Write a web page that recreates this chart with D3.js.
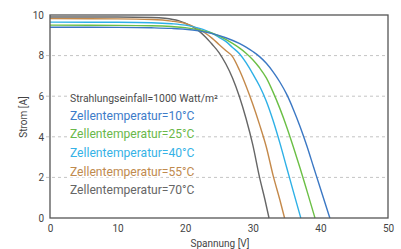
<!DOCTYPE html>
<html><head><meta charset="utf-8">
<script src="https://cdn.jsdelivr.net/npm/d3@7"></script>
<style>
html,body{margin:0;padding:0;background:#fff;}
svg{display:block;font-family:Roboto,"Liberation Sans",Arial,sans-serif;}
</style></head>
<body>
<svg id="c" width="401" height="249"></svg>
<script>
// Data (voltage V, current A)
const temps = ["70°C","55°C","40°C","25°C","10°C"];
const colors = ["#666666","#c4894a","#2eb0e6","#6bbf45","#3b78c4"];
const curve70 = [[0,9.9],[10,9.9],[15,9.88],[17,9.84],[19,9.72],[20,9.6],[21,9.44],[22,9.22],[23,8.92],[24,8.55],[25,8.15],[26,7.6],[27,6.9],[28,6.0],[29,4.9],[30,3.6],[31,2.0],[31.8,0.9],[32.4,0]];
const curve55 = [[0,9.82],[10,9.81],[15,9.78],[18,9.7],[20,9.58],[22,9.3],[23,9.1],[24,8.85],[25,8.55],[26,8.25],[27,7.95],[28,7.3],[29,6.5],[30,5.6],[31,4.6],[32,3.5],[33,2.1],[34,0.9],[34.7,0]];
const curve40 = [[0,9.65],[10,9.64],[15,9.62],[18,9.57],[20,9.5],[22,9.35],[24,9.1],[25,8.9],[26,8.7],[27,8.4],[28,8.1],[29,7.65],[30,7.1],[31,6.5],[32,5.75],[33,4.8],[34,3.7],[35,2.5],[36,1.3],[37.1,0]];
const curve25 = [[0,9.5],[10,9.49],[15,9.47],[18,9.43],[20,9.38],[22,9.27],[24,9.1],[26,8.8],[27,8.6],[28,8.38],[29,8.12],[30,7.8],[31,7.4],[32,6.9],[33,6.2],[34,5.4],[35,4.5],[36,3.5],[37,2.45],[38,1.35],[39.2,0]];
const curve10 = [[0,9.4],[10,9.39],[15,9.37],[18,9.34],[20,9.3],[22,9.22],[24,9.08],[26,8.88],[28,8.6],[29,8.42],[30,8.2],[31,7.95],[32,7.62],[33,7.2],[34,6.7],[35,6.1],[36,5.35],[37,4.5],[38,3.55],[39,2.5],[40,1.45],[41.4,0]];
const series = [curve70, curve55, curve40, curve25, curve10];
const xTicks = [0,10,20,30,40,50];
const yTicks = [0,2,4,6,8,10];
const legendTitle = "Strahlungseinfall=1000 Watt/m²";
const legendTemps = ["10°C","25°C","40°C","55°C","70°C"];
const legendColors = ["#3d7cc9","#6ab84a","#35b2e6","#c08a4e","#666666"];

const svg = d3.select("#c");
const L=50,R=388,T=15,B=218;
const x = d3.scaleLinear().domain([0,50]).range([L,R]);
const y = d3.scaleLinear().domain([0,10]).range([B,T]);

// grid
svg.append("g").selectAll("line").data(yTicks.filter(d=>d>0&&d<10)).join("line")
  .attr("x1",46).attr("x2",R).attr("y1",d=>y(d)).attr("y2",d=>y(d))
  .attr("stroke","#c4c4c4").attr("stroke-width",1).attr("stroke-dasharray","3,3");

// curves
const line = d3.line().x(d=>x(d[0])).y(d=>y(d[1])).curve(d3.curveMonotoneX);
svg.append("g").selectAll("path").data(series).join("path")
  .attr("d",line).attr("fill","none")
  .attr("stroke",(d,i)=>colors[i]).attr("stroke-width",1.4);

// frame
svg.append("rect").attr("x",L).attr("y",T).attr("width",R-L).attr("height",B-T)
  .attr("fill","none").attr("stroke","#555").attr("stroke-width",1.3);

// axes (labels only)
const xa = svg.append("g").attr("transform",`translate(0,${B})`)
  .call(d3.axisBottom(x).tickValues(xTicks).tickSize(0).tickPadding(7));
const ya = svg.append("g").attr("transform",`translate(${L},0)`)
  .call(d3.axisLeft(y).tickValues(yTicks).tickSize(0).tickPadding(6));
[xa,ya].forEach(a=>{a.select(".domain").remove();
  a.selectAll("text").attr("fill","#444").style("font-size","10px").style("font-family","Roboto,'Liberation Sans',Arial,sans-serif");});

// axis titles
svg.append("text").attr("x",(L+R)/2+1).attr("y",246.5).attr("text-anchor","middle")
  .attr("fill","#444").style("font-size","10px").text("Spannung [V]");
svg.append("text").attr("transform","translate(26.5,117) rotate(-90)").attr("text-anchor","middle")
  .attr("fill","#444").style("font-size","10px").text("Strom [A]");

// legend texts
const lg = svg.append("g");
lg.append("text").attr("x",70).attr("y",101.5).attr("fill","#4a4a4a")
  .style("font-size","10.4px").attr("stroke","#fff").attr("stroke-width",3).attr("paint-order","stroke")
  .text(legendTitle);
lg.selectAll("text.t").data(legendTemps).join("text").attr("class","t")
  .attr("x",70).attr("y",(d,i)=>119.5+i*18.7).attr("fill",(d,i)=>legendColors[i])
  .style("font-size","12.1px").attr("stroke","#fff").attr("stroke-width",3).attr("paint-order","stroke")
  .text(d=>"Zellentemperatur="+d);
</script>
</body></html>
